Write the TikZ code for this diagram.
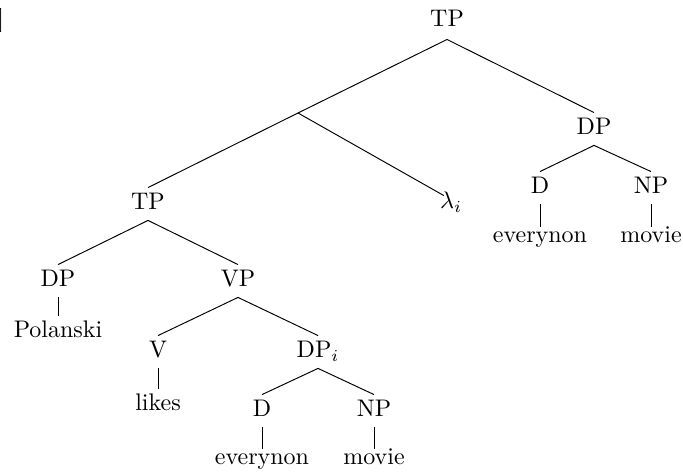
\documentclass[tikz,border=0pt]{standalone}
\begin{document}
\begin{tikzpicture}[x=0.416667pt,y=-0.416667pt,
  lbl/.style={inner xsep=0pt,inner ysep=2.2pt,text height=6.94pt,text depth=1.94pt,anchor=base},
  low/.style={lbl,text height=4.31pt},
  lam/.style={lbl,text height=3.2pt},
  br/.style={line width=0.4pt}]
\useasboundingbox (0,0) rectangle (683,474);
\node[inner sep=0pt,anchor=base west] (brk) at (-3,27) {]};
% top
\node[lbl,text depth=2.8pt] (tp0) at (447,27) {TP};
\coordinate (bp) at (298,113);
\node[lbl] (dpr) at (594,135) {DP};
\node[lbl] (dr) at (540,194) {D};
\node[lbl] (npr) at (651,194) {NP};
\node[low] (evr) at (540,243) {everynon};
\node[low] (mvr) at (651,243) {movie};
% middle
\node[lbl] (tp1) at (148,210) {TP};
\node[lam] (lm) at (451,209) {$\lambda_i$};
\node[lbl] (dpl) at (58,287) {DP};
\node[lbl] (vp) at (238,287) {VP};
\node[lbl] (pol) at (58,338) {Polanski};
\node[lbl] (v) at (158,358) {V};
\node[lbl] (dpi) at (318,358) {DP$_i$};
\node[lbl] (lk) at (158,411) {likes};
\node[lbl] (dl) at (262,417) {D};
\node[lbl] (npl) at (374,417) {NP};
\node[low] (evl) at (262,465) {everynon};
\node[low] (mvl) at (374,465) {movie};
% connectors
\draw[br] (tp0.south) -- (bp);
\draw[br] (tp0.south) -- (dpr.north);
\draw[br] (bp) -- (tp1.north);
\draw[br] (bp) -- ([xshift=-3]lm.north);
\draw[br] (dpr.south) -- (dr.north);
\draw[br] (dpr.south) -- (npr.north);
\draw[br] (dr.south) -- (evr.north);
\draw[br] (npr.south) -- (mvr.north);
\draw[br] (tp1.south) -- (dpl.north);
\draw[br] (tp1.south) -- (vp.north);
\draw[br] (dpl.south) -- (pol.north);
\draw[br] (vp.south) -- (v.north);
\draw[br] (vp.south) -- (dpi.north);
\draw[br] (v.south) -- (lk.north);
\draw[br] (dpi.south) -- (dl.north);
\draw[br] (dpi.south) -- (npl.north);
\draw[br] (dl.south) -- (evl.north);
\draw[br] (npl.south) -- (mvl.north);
\end{tikzpicture}
\end{document}
